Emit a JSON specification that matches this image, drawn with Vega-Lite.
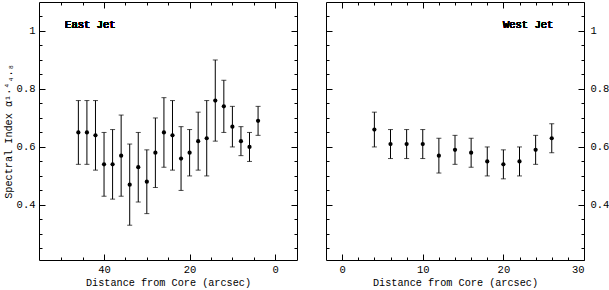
{
  "$schema": "https://vega.github.io/schema/vega-lite/v6.json",
  "padding": {"left": 2, "top": 1, "right": 0, "bottom": 0},
  "spacing": 27,
  "config": {
    "view": {"stroke": "black", "strokeWidth": 1},
    "font": "Liberation Mono",
    "axis": {
      "domain": false,
      "grid": false,
      "tickColor": "black",
      "tickWidth": 1,
      "labelFont": "Liberation Mono",
      "labelFontSize": 10.5,
      "labelColor": "black",
      "titleFont": "Liberation Mono",
      "titleFontSize": 10.2,
      "titleFontWeight": "normal",
      "titleColor": "black"
    }
  },
  "hconcat": [
    {
      "width": 258,
      "height": 258,
      "data": {"values": [
        {"d": 46, "a": 0.65, "lo": 0.54, "hi": 0.76},
        {"d": 44, "a": 0.65, "lo": 0.54, "hi": 0.76},
        {"d": 42, "a": 0.64, "lo": 0.52, "hi": 0.76},
        {"d": 40, "a": 0.54, "lo": 0.43, "hi": 0.65},
        {"d": 38, "a": 0.54, "lo": 0.42, "hi": 0.66},
        {"d": 36, "a": 0.57, "lo": 0.43, "hi": 0.71},
        {"d": 34, "a": 0.47, "lo": 0.33, "hi": 0.61},
        {"d": 32, "a": 0.53, "lo": 0.41, "hi": 0.65},
        {"d": 30, "a": 0.48, "lo": 0.37, "hi": 0.59},
        {"d": 28, "a": 0.58, "lo": 0.46, "hi": 0.70},
        {"d": 26, "a": 0.65, "lo": 0.53, "hi": 0.77},
        {"d": 24, "a": 0.64, "lo": 0.52, "hi": 0.76},
        {"d": 22, "a": 0.56, "lo": 0.45, "hi": 0.67},
        {"d": 20, "a": 0.58, "lo": 0.50, "hi": 0.66},
        {"d": 18, "a": 0.62, "lo": 0.52, "hi": 0.72},
        {"d": 16, "a": 0.63, "lo": 0.50, "hi": 0.76},
        {"d": 14, "a": 0.76, "lo": 0.62, "hi": 0.90},
        {"d": 12, "a": 0.74, "lo": 0.65, "hi": 0.83},
        {"d": 10, "a": 0.67, "lo": 0.60, "hi": 0.74},
        {"d": 8, "a": 0.62, "lo": 0.57, "hi": 0.67},
        {"d": 6, "a": 0.60, "lo": 0.55, "hi": 0.65},
        {"d": 4, "a": 0.69, "lo": 0.64, "hi": 0.74}
      ]},
      "resolve": {"axis": {"x": "independent", "y": "independent"}},
      "layer": [
        {
          "mark": {"type": "rule", "color": "black", "strokeWidth": 1},
          "encoding": {
            "x": {"field": "d", "type": "quantitative",
              "scale": {"domain": [55.2, -5.1], "nice": false, "zero": false},
              "axis": {"orient": "bottom", "values": [40, 20, 0], "tickSize": -6, "labelPadding": 10, "title": "Distance from Core (arcsec)", "titlePadding": 3}},
            "y": {"field": "lo", "type": "quantitative",
              "scale": {"domain": [0.21, 1.1], "nice": false, "zero": false},
              "axis": {"orient": "left", "values": [0.4, 0.6, 0.8, 1], "format": "~r", "tickSize": -6, "labelPadding": 10, "title": "Spectral Index  α¹·⁴₄.₈", "titlePadding": 3}},
            "y2": {"field": "hi"}
          }
        },
        {
          "mark": {"type": "tick", "orient": "horizontal", "color": "black", "size": 5, "thickness": 1},
          "encoding": {
            "x": {"field": "d", "type": "quantitative",
              "axis": {"orient": "bottom", "values": [50, 45, 35, 30, 25, 15, 10, 5], "tickSize": -3, "labels": false, "title": null}},
            "y": {"field": "hi", "type": "quantitative",
              "axis": {"orient": "left", "values": [0.25, 0.3, 0.35, 0.45, 0.5, 0.55, 0.65, 0.7, 0.75, 0.85, 0.9, 0.95, 1.05], "tickSize": -3, "labels": false, "title": null}}
          }
        },
        {
          "mark": {"type": "tick", "orient": "horizontal", "color": "black", "size": 5, "thickness": 1},
          "encoding": {
            "x": {"field": "d", "type": "quantitative",
              "axis": {"orient": "top", "values": [40, 20, 0], "tickSize": -6, "labels": false, "title": null}},
            "y": {"field": "lo", "type": "quantitative",
              "axis": {"orient": "right", "values": [0.4, 0.6, 0.8, 1], "tickSize": -6, "labels": false, "title": null}}
          }
        },
        {
          "mark": {"type": "circle", "color": "black", "opacity": 1, "size": 18},
          "encoding": {
            "x": {"field": "d", "type": "quantitative",
              "axis": {"orient": "top", "values": [50, 45, 35, 30, 25, 15, 10, 5], "tickSize": -3, "labels": false, "title": null}},
            "y": {"field": "a", "type": "quantitative",
              "axis": {"orient": "right", "values": [0.25, 0.3, 0.35, 0.45, 0.5, 0.55, 0.65, 0.7, 0.75, 0.85, 0.9, 0.95, 1.05], "tickSize": -3, "labels": false, "title": null}}
          }
        },
        {
          "mark": {"type": "text", "align": "left", "baseline": "middle", "font": "Liberation Mono", "fontSize": 10.5, "fontWeight": "normal", "color": "black"},
          "encoding": {
            "x": {"datum": 49.1, "type": "quantitative", "axis": null},
            "y": {"datum": 1.02, "type": "quantitative", "axis": null},
            "text": {"value": "East Jet"}
          }
        }
      ]
    },
    {
      "width": 258,
      "height": 258,
      "data": {"values": [
        {"d": 4, "a": 0.66, "lo": 0.60, "hi": 0.72},
        {"d": 6, "a": 0.61, "lo": 0.56, "hi": 0.66},
        {"d": 8, "a": 0.61, "lo": 0.56, "hi": 0.66},
        {"d": 10, "a": 0.61, "lo": 0.56, "hi": 0.66},
        {"d": 12, "a": 0.57, "lo": 0.51, "hi": 0.63},
        {"d": 14, "a": 0.59, "lo": 0.54, "hi": 0.64},
        {"d": 16, "a": 0.58, "lo": 0.53, "hi": 0.63},
        {"d": 18, "a": 0.55, "lo": 0.50, "hi": 0.60},
        {"d": 20, "a": 0.54, "lo": 0.49, "hi": 0.59},
        {"d": 22, "a": 0.55, "lo": 0.50, "hi": 0.60},
        {"d": 24, "a": 0.59, "lo": 0.54, "hi": 0.64},
        {"d": 26, "a": 0.63, "lo": 0.58, "hi": 0.68}
      ]},
      "resolve": {"axis": {"x": "independent", "y": "independent"}},
      "layer": [
        {
          "mark": {"type": "rule", "color": "black", "strokeWidth": 1},
          "encoding": {
            "x": {"field": "d", "type": "quantitative",
              "scale": {"domain": [-2, 30], "nice": false, "zero": false},
              "axis": {"orient": "bottom", "values": [0, 10, 20, 30], "tickSize": -6, "labelPadding": 10, "title": "Distance from Core (arcsec)", "titlePadding": 3}},
            "y": {"field": "lo", "type": "quantitative",
              "scale": {"domain": [0.21, 1.1], "nice": false, "zero": false},
              "axis": {"orient": "right", "values": [0.4, 0.6, 0.8, 1], "format": "~r", "tickSize": -6, "labelPadding": 12, "title": null}},
            "y2": {"field": "hi"}
          }
        },
        {
          "mark": {"type": "tick", "orient": "horizontal", "color": "black", "size": 5, "thickness": 1},
          "encoding": {
            "x": {"field": "d", "type": "quantitative",
              "axis": {"orient": "bottom", "values": [2, 4, 6, 8, 12, 14, 16, 18, 22, 24, 26, 28], "tickSize": -3, "labels": false, "title": null}},
            "y": {"field": "hi", "type": "quantitative",
              "axis": {"orient": "right", "values": [0.25, 0.3, 0.35, 0.45, 0.5, 0.55, 0.65, 0.7, 0.75, 0.85, 0.9, 0.95, 1.05], "tickSize": -3, "labels": false, "title": null}}
          }
        },
        {
          "mark": {"type": "tick", "orient": "horizontal", "color": "black", "size": 5, "thickness": 1},
          "encoding": {
            "x": {"field": "d", "type": "quantitative",
              "axis": {"orient": "top", "values": [0, 10, 20, 30], "tickSize": -6, "labels": false, "title": null}},
            "y": {"field": "lo", "type": "quantitative",
              "axis": {"orient": "left", "values": [0.4, 0.6, 0.8, 1], "tickSize": -6, "labels": false, "title": null}}
          }
        },
        {
          "mark": {"type": "circle", "color": "black", "opacity": 1, "size": 18},
          "encoding": {
            "x": {"field": "d", "type": "quantitative",
              "axis": {"orient": "top", "values": [2, 4, 6, 8, 12, 14, 16, 18, 22, 24, 26, 28], "tickSize": -3, "labels": false, "title": null}},
            "y": {"field": "a", "type": "quantitative",
              "axis": {"orient": "left", "values": [0.25, 0.3, 0.35, 0.45, 0.5, 0.55, 0.65, 0.7, 0.75, 0.85, 0.9, 0.95, 1.05], "tickSize": -3, "labels": false, "title": null}}
          }
        },
        {
          "mark": {"type": "text", "align": "right", "baseline": "middle", "font": "Liberation Mono", "fontSize": 10.5, "fontWeight": "normal", "color": "black"},
          "encoding": {
            "x": {"datum": 26.2, "type": "quantitative", "axis": null},
            "y": {"datum": 1.02, "type": "quantitative", "axis": null},
            "text": {"value": "West Jet"}
          }
        }
      ]
    }
  ]
}
